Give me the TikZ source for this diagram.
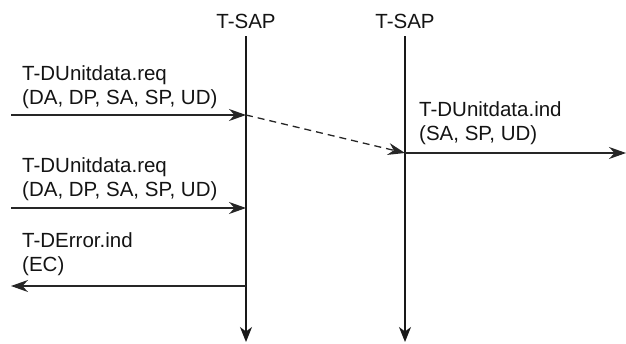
\documentclass[tikz,border=0pt]{standalone}
\usepackage{fontspec}
\setmainfont{Liberation Sans}
\usetikzlibrary{arrows.meta}
\begin{document}
\begin{tikzpicture}[x=1pt,y=-1pt,
  lbl/.style={inner sep=0pt, anchor=base west, align=left, text=black!92,
    font=\fontsize{20.5}{23.5}\selectfont},
  hdr/.style={inner sep=0pt, anchor=base, text=black!92,
    font=\fontsize{20.5}{23.5}\selectfont},
  life/.style={line width=1.3pt, black!90, -{Stealth[length=15pt,width=12pt,inset=4.5pt]}},
  msg/.style={line width=1.3pt, black!85, -{Stealth[length=17pt,width=12pt,inset=5.5pt]}},
  dmsg/.style={msg, dash pattern=on 7pt off 5pt}]
\useasboundingbox (0,0) rectangle (626,343);
% headers
\node[hdr] (h1) at (246,28) {T-SAP};
\node[hdr] (h2) at (405,28) {T-SAP};
% lifeline coordinates
\coordinate (a0) at (246,36);
\coordinate (a1) at (246,115);
\coordinate (a2) at (246,208);
\coordinate (a3) at (246,286);
\coordinate (aE) at (246,342);
\coordinate (b0) at (405,36);
\coordinate (b1) at (405,153);
\coordinate (bE) at (405,342);
% free ends
\coordinate (l1) at (11,115);
\coordinate (l2) at (11,208);
\coordinate (l3) at (11,286);
\coordinate (r1) at (626,153);
% lifelines
\draw[life] (a0) -- (aE);
\draw[life] (b0) -- (bE);
% messages
\draw[msg] (l1) -- (a1);
\draw[dmsg] (a1) -- (b1);
\draw[msg] (b1) -- (r1);
\draw[msg] (l2) -- (a2);
\draw[msg] (a3) -- (l3);
% labels (anchored at the baseline of the last line)
\node[lbl] (t1) at (22,104) {T-DUnitdata.req\\(DA, DP, SA, SP, UD)};
\node[lbl] (t2) at (419,140) {T-DUnitdata.ind\\(SA, SP, UD)};
\node[lbl] (t3) at (22,196) {T-DUnitdata.req\\(DA, DP, SA, SP, UD)};
\node[lbl] (t4) at (22,271) {T-DError.ind\\(EC)};
\end{tikzpicture}
\end{document}
